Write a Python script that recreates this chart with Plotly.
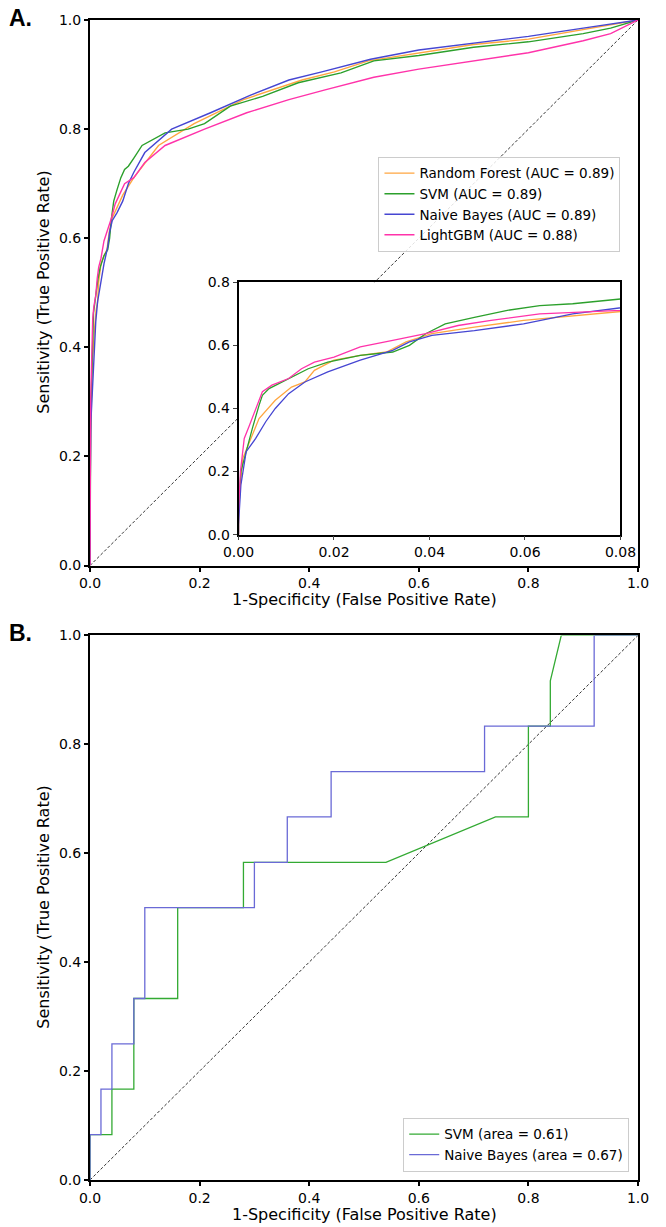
import plotly.graph_objects as go

# ---------------- Panel A data (ROC curves) ----------------
rf_fpr = [0, 0, 0.0009, 0.0023, 0.0043, 0.0077, 0.0111, 0.0139, 0.0159, 0.02, 0.0255, 0.031, 0.0351, 0.0405,
          0.0494, 0.0597, 0.08, 0.125, 0.19, 0.28, 0.387, 0.446, 0.508, 0.6, 0.7, 0.8, 0.9, 1.0]
rf_tpr = [0, 0.095, 0.242, 0.295, 0.368, 0.426, 0.468, 0.484, 0.521, 0.553, 0.568, 0.579, 0.611, 0.637,
          0.658, 0.679, 0.711, 0.77, 0.81, 0.854, 0.89, 0.905, 0.925, 0.94, 0.955, 0.965, 0.982, 1.0]

svm_fpr = [0, 0, 0.0005, 0.0012, 0.0029, 0.0043, 0.005, 0.0064, 0.0091, 0.0118, 0.0146, 0.0187, 0.0255, 0.0323,
           0.0358, 0.0392, 0.0433, 0.0494, 0.0563, 0.0631, 0.07, 0.08, 0.095, 0.137, 0.179, 0.209, 0.256, 0.315,
           0.38, 0.458, 0.518, 0.6, 0.7, 0.8, 0.9, 0.95, 1.0]
svm_tpr = [0, 0.063, 0.2, 0.242, 0.337, 0.41, 0.442, 0.463, 0.484, 0.505, 0.526, 0.547, 0.568, 0.579,
           0.6, 0.637, 0.668, 0.689, 0.711, 0.726, 0.732, 0.747, 0.77, 0.793, 0.80, 0.81, 0.842, 0.86,
           0.885, 0.903, 0.925, 0.935, 0.95, 0.96, 0.975, 0.985, 1.0]

nb_fpr = [0, 0, 0.0005, 0.0016, 0.0036, 0.0057, 0.0077, 0.0105, 0.0139, 0.0187, 0.0255, 0.0323, 0.0358, 0.0405,
          0.0494, 0.0597, 0.07, 0.08, 0.1, 0.149, 0.22, 0.292, 0.363, 0.423, 0.512, 0.6, 0.7, 0.8, 0.9, 1.0]
nb_tpr = [0, 0.032, 0.158, 0.263, 0.305, 0.358, 0.4, 0.447, 0.484, 0.516, 0.553, 0.584, 0.611, 0.632,
          0.647, 0.668, 0.7, 0.721, 0.757, 0.8, 0.83, 0.862, 0.89, 0.905, 0.928, 0.945, 0.958, 0.97, 0.985, 1.0]

lgbm_fpr = [0, 0, 0.0004, 0.0012, 0.0023, 0.004, 0.005, 0.007, 0.0105, 0.0132, 0.0159, 0.02, 0.0255, 0.0323,
            0.0392, 0.046, 0.0529, 0.0631, 0.08, 0.1, 0.137, 0.209, 0.286, 0.363, 0.429, 0.518, 0.6, 0.7, 0.8,
            0.9, 0.95, 1.0]
lgbm_tpr = [0, 0.074, 0.2, 0.305, 0.347, 0.41, 0.453, 0.474, 0.495, 0.526, 0.547, 0.563, 0.595, 0.616,
            0.637, 0.663, 0.679, 0.7, 0.711, 0.739, 0.77, 0.8, 0.83, 0.854, 0.872, 0.895, 0.91, 0.925, 0.94,
            0.962, 0.975, 1.0]

names_a = ["Random Forest (AUC = 0.89)", "SVM (AUC = 0.89)", "Naive Bayes (AUC = 0.89)", "LightGBM (AUC = 0.88)"]
colors_a = ["#ffa640", "#2ca02c", "#4646d2", "#ff33aa"]

# ---------------- Panel B data ----------------
svm_b_fpr = [0, 0, 0.04, 0.04, 0.08, 0.08, 0.16, 0.16, 0.28, 0.28, 0.54, 0.74, 0.80, 0.80, 0.84, 0.84, 0.86, 1.0]
svm_b_tpr = [0, 0.0833, 0.0833, 0.1667, 0.1667, 0.3333, 0.3333, 0.5, 0.5, 0.5833, 0.5833, 0.6667, 0.6667,
             0.8333, 0.8333, 0.9167, 1.0, 1.0]
nb_b_fpr = [0, 0, 0.02, 0.02, 0.04, 0.04, 0.08, 0.08, 0.10, 0.10, 0.30, 0.30, 0.36, 0.36, 0.44, 0.44, 0.72,
            0.72, 0.92, 0.92, 1.0]
nb_b_tpr = [0, 0.0833, 0.0833, 0.1667, 0.1667, 0.25, 0.25, 0.3333, 0.3333, 0.5, 0.5, 0.5833, 0.5833, 0.6667,
            0.6667, 0.75, 0.75, 0.8333, 0.8333, 1.0, 1.0]
names_b = ["SVM (area = 0.61)", "Naive Bayes (area = 0.67)"]
colors_b = ["#33aa33", "#6a6ad6"]

chance = [0, 1]
tick_vals = [0, 0.2, 0.4, 0.6, 0.8, 1.0]
inset_x_ticks = [0, 0.02, 0.04, 0.06, 0.08]
inset_y_ticks = [0, 0.2, 0.4, 0.6, 0.8]

X_TITLE = "1-Specificity (False Positive Rate)"
Y_TITLE = "Sensitivity (True Positive Rate)"

FONT = "DejaVu Sans"
fig = go.Figure()

# chance lines
fig.add_trace(go.Scatter(x=chance, y=chance, mode="lines", xaxis="x", yaxis="y",
                         line=dict(color="black", width=0.8, dash="3px,2px"), showlegend=False, hoverinfo="skip"))
fig.add_trace(go.Scatter(x=chance, y=chance, mode="lines", xaxis="x2", yaxis="y2",
                         line=dict(color="black", width=0.8, dash="3px,2px"), showlegend=False, hoverinfo="skip"))

curves_a = [(rf_fpr, rf_tpr), (svm_fpr, svm_tpr), (nb_fpr, nb_tpr), (lgbm_fpr, lgbm_tpr)]
for (fx, ty), nm, c in zip(curves_a, names_a, colors_a):
    fig.add_trace(go.Scatter(x=fx, y=ty, mode="lines", name=nm, xaxis="x", yaxis="y",
                             line=dict(color=c, width=1.4), legend="legend"))
for (fx, ty), nm, c in zip(curves_a, names_a, colors_a):
    fig.add_trace(go.Scatter(x=fx, y=ty, mode="lines", name=nm, xaxis="x3", yaxis="y3",
                             line=dict(color=c, width=1.3), showlegend=False))

for (fx, ty), nm, c in zip([(svm_b_fpr, svm_b_tpr), (nb_b_fpr, nb_b_tpr)], names_b, colors_b):
    fig.add_trace(go.Scatter(x=fx, y=ty, mode="lines", name=nm, xaxis="x2", yaxis="y2",
                             line=dict(color=c, width=1.3), legend="legend2"))

ax_common = dict(range=[0, 1], showgrid=False, zeroline=False, showline=True, linecolor="black",
                 linewidth=2, mirror=True, ticks="outside", ticklen=4, tickwidth=1.5, tickcolor="black",
                 tickvals=tick_vals, ticktext=[f"{v:.1f}" for v in tick_vals],
                 tickfont=dict(family=FONT, size=14, color="black"))

title_font = dict(family=FONT, size=16, color="black")

fig.update_layout(
    width=666, height=1227,
    margin=dict(l=90, r=16, t=17, b=47),
    paper_bgcolor="white", plot_bgcolor="white",
    font=dict(family=FONT, size=14, color="black"),
    xaxis=dict(ax_common, domain=[0, 1], anchor="y"),
    yaxis=dict(ax_common, domain=[0.5297, 1.0], anchor="x"),
    xaxis2=dict(ax_common, domain=[0, 1], anchor="y2"),
    yaxis2=dict(ax_common, domain=[0, 0.4695], anchor="x2"),
    xaxis3=dict(range=[0, 0.08], domain=[0.271, 0.968], anchor="y3", showgrid=False, zeroline=False,
                showline=True, linecolor="black", linewidth=1.6, mirror=True, ticks="outside", ticklen=4,
                tickwidth=1.3, tickvals=inset_x_ticks, ticktext=[f"{v:.2f}" for v in inset_x_ticks],
                tickfont=dict(family=FONT, size=14, color="black")),
    yaxis3=dict(range=[0, 0.8], domain=[0.5563, 0.7739], anchor="x3", showgrid=False, zeroline=False,
                showline=True, linecolor="black", linewidth=1.6, mirror=True, ticks="outside", ticklen=4,
                tickwidth=1.3, tickvals=inset_y_ticks, ticktext=[f"{v:.1f}" for v in inset_y_ticks],
                tickfont=dict(family=FONT, size=14, color="black")),
    legend=dict(x=0.968, y=0.882, xanchor="right", yanchor="top", bgcolor="rgba(255,255,255,0.85)",
                bordercolor="#cccccc", borderwidth=1, font=dict(family=FONT, size=13.5, color="black"),
                tracegroupgap=0, itemwidth=30),
    legend2=dict(x=0.984, y=0.007, xanchor="right", yanchor="bottom", bgcolor="rgba(255,255,255,0.85)",
                 bordercolor="#cccccc", borderwidth=1, font=dict(family=FONT, size=13.5, color="black"),
                 itemwidth=30),
    annotations=[
        dict(text="<b>A.</b>", x=-0.152, y=1.0017, xref="paper", yref="paper", xanchor="left", yanchor="middle",
             showarrow=False, font=dict(family="Liberation Sans", size=23, color="black")),
        dict(text="<b>B.</b>", x=-0.152, y=0.4712, xref="paper", yref="paper", xanchor="left", yanchor="middle",
             showarrow=False, font=dict(family="Liberation Sans", size=23, color="black")),
        # axis titles
        dict(text=X_TITLE, x=0.5, y=0.5003, xref="paper", yref="paper", xanchor="center", yanchor="middle",
             showarrow=False, font=title_font, borderpad=0),
        dict(text=X_TITLE, x=0.5, y=-0.0301, xref="paper", yref="paper", xanchor="center", yanchor="middle",
             showarrow=False, font=title_font, borderpad=0),
        dict(text=Y_TITLE, x=-0.0839, y=0.7649, xref="paper", yref="paper", xanchor="center", yanchor="middle",
             textangle=-90, showarrow=False, font=title_font, borderpad=0),
        dict(text=Y_TITLE, x=-0.0839, y=0.2348, xref="paper", yref="paper", xanchor="center", yanchor="middle",
             textangle=-90, showarrow=False, font=title_font, borderpad=0),
    ],
)

# remove the browser's default page margin so the figure sits at the window's top-left corner
fig.write_html("out.html", config={"displayModeBar": False},
               post_script="document.body.style.margin='0';document.body.style.overflow='hidden';")
